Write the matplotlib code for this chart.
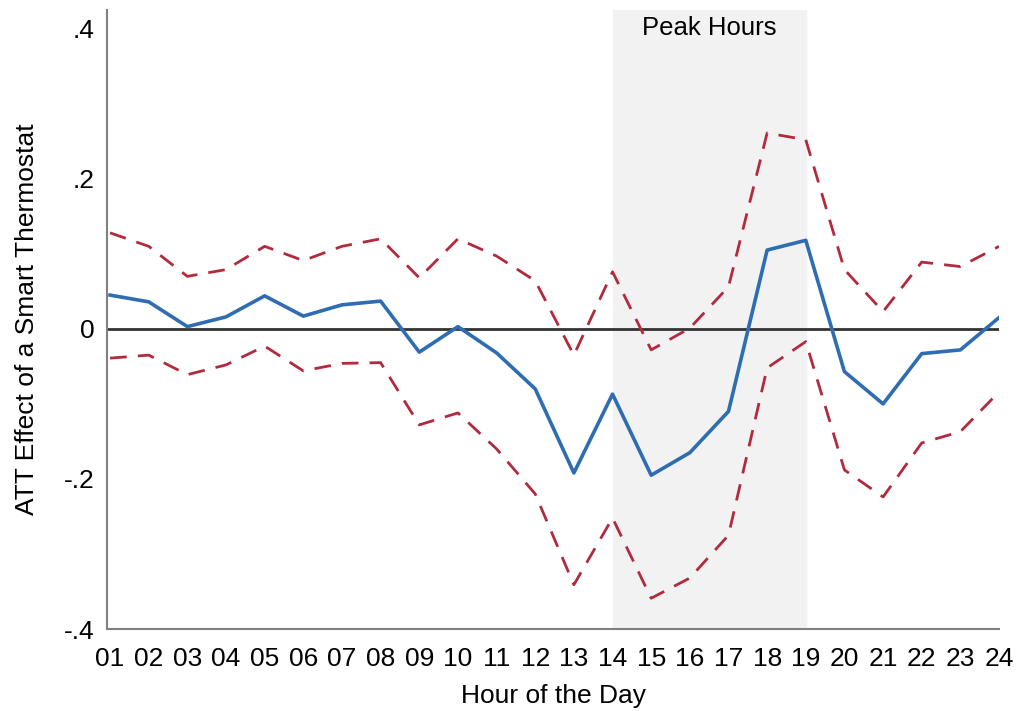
import numpy as np
import matplotlib.pyplot as plt

plt.rcParams['font.family'] = ['Liberation Sans', 'DejaVu Sans']

hours = np.arange(1, 25)
hour_labels = [f"{h:02d}" for h in hours]

att = [0.045, 0.036, 0.003, 0.016, 0.044, 0.017, 0.032, 0.037, -0.031, 0.003,
       -0.032, -0.080, -0.192, -0.087, -0.195, -0.165, -0.110, 0.105, 0.118, -0.057,
       -0.100, -0.033, -0.028, 0.015]
ci_upper = [0.128, 0.110, 0.070, 0.079, 0.110, 0.091, 0.110, 0.120, 0.068, 0.120,
            0.097, 0.064, -0.035, 0.076, -0.028, 0.001, 0.056, 0.261, 0.252, 0.079,
            0.023, 0.089, 0.083, 0.110]
ci_lower = [-0.039, -0.035, -0.061, -0.048, -0.023, -0.056, -0.046, -0.045, -0.128, -0.112,
            -0.160, -0.220, -0.341, -0.252, -0.359, -0.332, -0.275, -0.052, -0.017, -0.188,
            -0.224, -0.152, -0.137, -0.084]

peak_start, peak_end = 14, 19

fig = plt.figure(figsize=(10.16, 7.11), dpi=100)
ax = fig.add_axes([0.1053, 0.1153, 0.878, 0.8707])

ax.axvspan(peak_start, peak_end, color="#f2f2f2", zorder=0)
ax.text((peak_start + peak_end) / 2, 0.401, "Peak Hours", ha="center", va="center", fontsize=18.5)

ax.axhline(0, color="#333333", lw=2, zorder=1)
ax.plot(hours, ci_upper, color="#b22a3d", lw=2, ls=(0, (6, 4)), zorder=2)
ax.plot(hours, ci_lower, color="#b22a3d", lw=2, ls=(0, (6, 4)), zorder=2)
ax.plot(hours, att, color="#2f6db3", lw=2.6, zorder=3)

ax.set_xlim(0.92, 24)
ax.set_ylim(-0.4, 0.425)
ax.set_xticks(hours)
ax.set_xticklabels(hour_labels)
ax.set_yticks([-0.4, -0.2, 0, 0.2, 0.4])
ax.set_yticklabels(["-.4", "-.2", "0", ".2", ".4"])
ax.tick_params(axis="y", length=0, labelsize=19, pad=9)
ax.tick_params(axis="x", length=0, labelsize=19, pad=13)

for s in ["top", "right"]:
    ax.spines[s].set_visible(False)
for s in ["left", "bottom"]:
    ax.spines[s].set_color("#808080")
    ax.spines[s].set_linewidth(1.5)

ax.set_xlabel("Hour of the Day", fontsize=19, labelpad=9)
ax.set_ylabel("ATT Effect of a Smart Thermostat", fontsize=19, labelpad=18)

fig.savefig("out.png", dpi=100)
